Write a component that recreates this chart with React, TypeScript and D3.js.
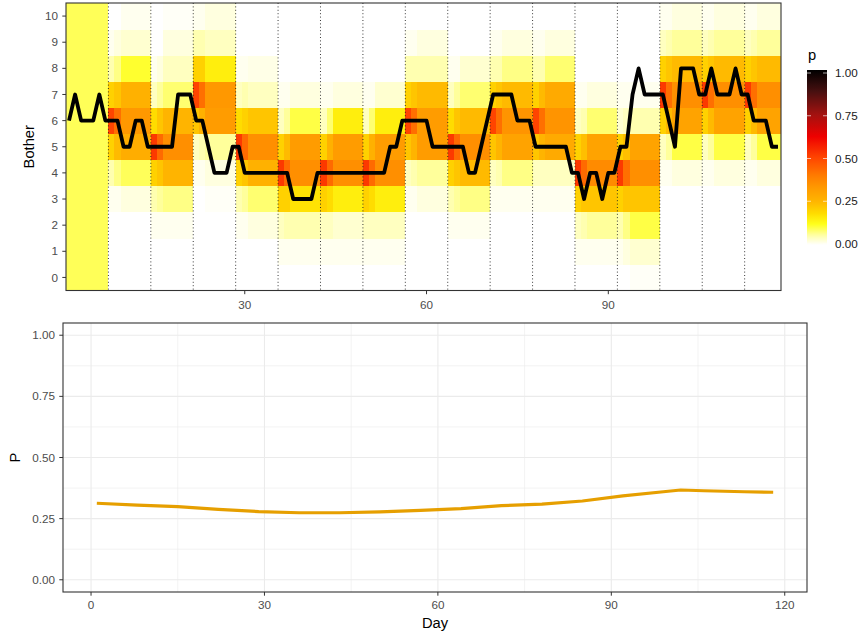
import React from 'react';
import * as d3 from 'd3';

// Observed bother per day (days 1..118)
const observed = [
  6, 7, 6, 6, 6, 7, 6,
  6, 6, 5, 5, 6, 6, 5,
  5, 5, 5, 5, 7, 7, 7,
  6, 6, 5, 4, 4, 4, 5,
  5, 4, 4, 4, 4, 4, 4,
  4, 4, 3, 3, 3, 3, 4,
  4, 4, 4, 4, 4, 4, 4,
  4, 4, 4, 4, 5, 5, 6,
  6, 6, 6, 6, 5, 5, 5,
  5, 5, 5, 4, 4, 5, 6,
  7, 7, 7, 7, 6, 6, 6,
  5, 5, 5, 5, 5, 5, 4,
  4, 3, 4, 4, 3, 4, 4,
  5, 5, 7, 8, 7, 7, 7,
  7, 6, 5, 8, 8, 8, 7,
  7, 8, 7, 7, 7, 8, 7,
  7, 6, 6, 6, 5, 5,
];

const levels = [0, 1, 2, 3, 4, 5, 6, 7, 8, 9, 10];

// Week 1 (days 1-7): uniform prior over the 11 levels
const week1Dist = [0.091, 0.091, 0.091, 0.091, 0.091, 0.091, 0.091, 0.091, 0.091, 0.091, 0.091];

// First forecast day of weeks 2..17 (levels 0..10)
const weekStart = [
  [0, 0, 0, 0.01, 0.05, 0.2, 0.5, 0.2, 0.05, 0.01, 0],
  [0, 0, 0.01, 0.05, 0.2, 0.52, 0.18, 0.04, 0.01, 0, 0],
  [0, 0, 0, 0, 0.01, 0.04, 0.22, 0.5, 0.2, 0.05, 0.01],
  [0, 0, 0.01, 0.05, 0.2, 0.52, 0.18, 0.04, 0.01, 0, 0],
  [0, 0.01, 0.04, 0.2, 0.52, 0.2, 0.04, 0.01, 0, 0, 0],
  [0, 0.01, 0.04, 0.2, 0.52, 0.2, 0.04, 0.01, 0, 0, 0],
  [0, 0.01, 0.04, 0.2, 0.52, 0.2, 0.04, 0.01, 0, 0, 0],
  [0, 0, 0, 0.01, 0.04, 0.22, 0.5, 0.2, 0.05, 0.01, 0],
  [0, 0, 0.01, 0.05, 0.2, 0.52, 0.18, 0.04, 0.01, 0, 0],
  [0, 0, 0, 0.01, 0.04, 0.22, 0.5, 0.2, 0.05, 0.01, 0],
  [0, 0, 0, 0.01, 0.04, 0.22, 0.5, 0.2, 0.05, 0.01, 0],
  [0, 0.01, 0.04, 0.2, 0.52, 0.2, 0.04, 0.01, 0, 0, 0],
  [0, 0.01, 0.05, 0.2, 0.52, 0.2, 0.03, 0.01, 0, 0, 0],
  [0, 0, 0, 0, 0.01, 0.04, 0.2, 0.52, 0.2, 0.04, 0.01],
  [0, 0, 0, 0, 0.01, 0.04, 0.2, 0.52, 0.2, 0.04, 0.01],
  [0, 0, 0, 0, 0.01, 0.04, 0.2, 0.52, 0.2, 0.04, 0.01],
];

// Second forecast day of weeks 2..17
const weekSecond = [
  [0, 0, 0, 0.01, 0.07, 0.24, 0.42, 0.22, 0.07, 0.02, 0],
  [0, 0, 0.01, 0.06, 0.22, 0.43, 0.22, 0.06, 0.02, 0, 0],
  [0, 0, 0, 0, 0.01, 0.05, 0.26, 0.42, 0.2, 0.05, 0.01],
  [0, 0, 0.01, 0.06, 0.22, 0.43, 0.2, 0.05, 0.01, 0, 0],
  [0, 0.01, 0.05, 0.2, 0.43, 0.24, 0.06, 0.01, 0, 0, 0],
  [0, 0.01, 0.04, 0.18, 0.43, 0.26, 0.08, 0.01, 0, 0, 0],
  [0, 0.01, 0.04, 0.18, 0.43, 0.26, 0.08, 0.01, 0, 0, 0],
  [0, 0, 0, 0.01, 0.05, 0.25, 0.42, 0.22, 0.05, 0.01, 0],
  [0, 0, 0.01, 0.06, 0.22, 0.43, 0.22, 0.06, 0.01, 0, 0],
  [0, 0, 0, 0.01, 0.05, 0.25, 0.42, 0.22, 0.05, 0.01, 0],
  [0, 0, 0, 0.01, 0.04, 0.25, 0.42, 0.24, 0.05, 0.01, 0],
  [0, 0.01, 0.05, 0.22, 0.43, 0.23, 0.05, 0.01, 0, 0, 0],
  [0, 0.02, 0.07, 0.22, 0.42, 0.23, 0.04, 0.01, 0, 0, 0],
  [0, 0, 0, 0, 0.01, 0.06, 0.24, 0.42, 0.22, 0.05, 0.01],
  [0, 0, 0, 0, 0.01, 0.06, 0.24, 0.42, 0.22, 0.05, 0.01],
  [0, 0, 0, 0, 0.01, 0.06, 0.24, 0.42, 0.22, 0.05, 0.01],
];

// Remaining days of weeks 2..17 (levels 0..10)
const weekRest = [
  [0, 0, 0, 0.02, 0.09, 0.27, 0.33, 0.26, 0.11, 0.03, 0.01],
  [0, 0, 0.01, 0.07, 0.25, 0.35, 0.25, 0.08, 0.04, 0.02, 0.005],
  [0, 0, 0, 0.005, 0.02, 0.06, 0.32, 0.33, 0.15, 0.04, 0.02],
  [0, 0, 0.02, 0.08, 0.26, 0.35, 0.22, 0.04, 0.015, 0, 0],
  [0, 0.01, 0.05, 0.17, 0.35, 0.32, 0.1, 0.02, 0, 0, 0],
  [0, 0.01, 0.03, 0.15, 0.35, 0.32, 0.15, 0.02, 0, 0, 0],
  [0, 0.01, 0.04, 0.15, 0.35, 0.32, 0.15, 0.03, 0, 0, 0],
  [0, 0, 0, 0.02, 0.06, 0.32, 0.32, 0.24, 0.05, 0.02, 0],
  [0, 0, 0.01, 0.07, 0.24, 0.35, 0.24, 0.08, 0.03, 0, 0],
  [0, 0, 0, 0.01, 0.07, 0.3, 0.34, 0.24, 0.07, 0.02, 0],
  [0, 0, 0, 0.01, 0.04, 0.28, 0.34, 0.28, 0.08, 0.02, 0],
  [0, 0.01, 0.06, 0.22, 0.36, 0.3, 0.08, 0.02, 0, 0, 0],
  [0.005, 0.03, 0.1, 0.22, 0.35, 0.3, 0.05, 0.01, 0, 0, 0],
  [0, 0, 0, 0, 0.02, 0.1, 0.3, 0.35, 0.24, 0.06, 0.02],
  [0, 0, 0, 0, 0.02, 0.1, 0.3, 0.35, 0.24, 0.06, 0.02],
  [0, 0, 0, 0, 0.02, 0.1, 0.3, 0.35, 0.24, 0.06, 0.02],
];

// Week boundaries (dotted lines)
const weekLines = [7.5, 14.5, 21.5, 28.5, 35.5, 42.5, 49.5, 56.5, 63.5, 70.5, 77.5, 84.5, 91.5, 98.5, 105.5, 112.5];

// Bottom panel: P over days
const pDays = [1, 8, 15, 22, 29, 36, 43, 50, 57, 64, 71, 78, 85, 92, 99, 102, 106, 113, 118];
const pValues = [0.313, 0.305, 0.299, 0.288, 0.279, 0.274, 0.274, 0.278, 0.284, 0.291, 0.303, 0.309, 0.322, 0.343, 0.36, 0.367, 0.364, 0.36, 0.358];

// Colour scale for p
const colorStops = [0, 0.05, 0.12, 0.18, 0.25, 0.33, 0.4, 0.5, 0.62, 0.75, 0.88, 1];
const colorValues = ['#ffffff', '#ffffb0', '#ffff1a', '#ffdc00', '#ffb400', '#ff9800', '#ff7a00', '#ff4400', '#ee0000', '#a01210', '#461010', '#000000'];

const topXTicks = [30, 60, 90];
const topYTicks = [0, 1, 2, 3, 4, 5, 6, 7, 8, 9, 10];
const botXTicks = [0, 30, 60, 90, 120];
const botXMinor = [15, 45, 75, 105];
const botYTicks = [0, 0.25, 0.5, 0.75, 1];
const botYMinor = [0.125, 0.375, 0.625, 0.875];
const legendTicks = [0, 0.25, 0.5, 0.75, 1];

const FONT = 'Liberation Sans, Arial, Helvetica, sans-serif';

export default function App() {
  const W = 867, H = 636;
  const xTop = d3.scaleLinear().domain([0.5, 118.5]).range([66, 781]);
  const yTop = d3.scaleLinear().domain([-0.5, 10.5]).range([290.5, 3]);
  const xBot = d3.scaleLinear().domain([-4.85, 123.85]).range([63, 807]);
  const yBot = d3.scaleLinear().domain([-0.05, 1.05]).range([592, 323]);
  const color = d3.scaleLinear<string>().domain(colorStops).range(colorValues).interpolate(d3.interpolateRgb).clamp(true);
  const yLeg = d3.scaleLinear().domain([0, 1]).range([244, 73]);

  const distFor = (day: number) => {
    const w = Math.floor((day - 1) / 7);
    if (w === 0) return week1Dist;
    const k = (day - 1) % 7;
    if (k === 0) return weekStart[w - 1];
    if (k === 1) return weekSecond[w - 1];
    return weekRest[w - 1];
  };

  const tiles: React.ReactElement[] = [];
  observed.forEach((_, i) => {
    const day = i + 1;
    const dist = distFor(day);
    const x0 = xTop(day - 0.5);
    const x1 = xTop(day + 0.5);
    levels.forEach((lv) => {
      const y0 = yTop(lv + 0.5);
      const y1 = yTop(lv - 0.5);
      tiles.push(
        <rect key={`t${day}-${lv}`} x={x0} y={y0} width={x1 - x0 + 0.4} height={y1 - y0 + 0.4} fill={color(dist[lv])} />
      );
    });
  });

  const obsLine = d3.line<number>().x((_, i) => xTop(i + 1)).y((v) => yTop(v))(observed) || '';
  const pLine = d3.line<number>().x((_, i) => xBot(pDays[i])).y((v) => yBot(v))(pValues) || '';

  const tickCol = '#4d4d4d';
  const gradStops = d3.range(0, 1.0001, 0.02);

  return (
    <svg width={W} height={H} style={{ position: 'absolute', left: 0, top: 0, background: '#fff' }} fontFamily={FONT}>
      <defs>
        <linearGradient id="pgrad" x1="0" y1="1" x2="0" y2="0">
          {gradStops.map((s) => (
            <stop key={s} offset={s} stopColor={color(s)} />
          ))}
        </linearGradient>
        <clipPath id="topclip">
          <rect x={66} y={3} width={715} height={287.5} />
        </clipPath>
      </defs>
      <rect x={0} y={0} width={W} height={H} fill="#fff" />

      {/* Top panel */}
      <g clipPath="url(#topclip)" shapeRendering="crispEdges">{tiles}</g>
      <g>
        {weekLines.map((v) => (
          <line key={v} x1={xTop(v)} x2={xTop(v)} y1={3} y2={290.5} stroke="#222" strokeWidth={0.9} strokeDasharray="1 2.4" />
        ))}
      </g>
      <path d={obsLine} fill="none" stroke="#000" strokeWidth={3.8} strokeLinejoin="round" />
      <rect x={66} y={3} width={715} height={287.5} fill="none" stroke="#333" strokeWidth={1.1} />
      {topYTicks.map((t) => (
        <g key={`ty${t}`}>
          <line x1={62.3} x2={66} y1={yTop(t)} y2={yTop(t)} stroke="#333" strokeWidth={1} />
          <text x={58} y={yTop(t)} dy="0.35em" textAnchor="end" fontSize={11.7} fill={tickCol}>{t}</text>
        </g>
      ))}
      {topXTicks.map((t) => (
        <g key={`tx${t}`}>
          <line x1={xTop(t)} x2={xTop(t)} y1={290.5} y2={294.2} stroke="#333" strokeWidth={1} />
          <text x={xTop(t)} y={309} textAnchor="middle" fontSize={11.7} fill={tickCol}>{t}</text>
        </g>
      ))}
      <text transform={`translate(34,${(3 + 290.5) / 2}) rotate(-90)`} textAnchor="middle" fontSize={14.7} fill="#000">Bother</text>

      {/* Legend */}
      <text x={808} y={60} fontSize={14.7} fill="#000">p</text>
      <rect x={807} y={70} width={20} height={175} fill="url(#pgrad)" />
      {legendTicks.map((t) => (
        <g key={`lg${t}`}>
          <line x1={807} x2={811} y1={yLeg(t)} y2={yLeg(t)} stroke="#fff" strokeWidth={0.8} opacity={0.8} />
          <line x1={823} x2={827} y1={yLeg(t)} y2={yLeg(t)} stroke="#fff" strokeWidth={0.8} opacity={0.8} />
          <text x={835} y={yLeg(t)} dy="0.35em" fontSize={11.7} fill="#1a1a1a">{t.toFixed(2)}</text>
        </g>
      ))}

      {/* Bottom panel */}
      <rect x={63} y={323} width={744} height={269} fill="#fff" />
      {botXMinor.map((t) => (
        <line key={`bxm${t}`} x1={xBot(t)} x2={xBot(t)} y1={323} y2={592} stroke="#ebebeb" strokeWidth={0.6} />
      ))}
      {botYMinor.map((t) => (
        <line key={`bym${t}`} x1={63} x2={807} y1={yBot(t)} y2={yBot(t)} stroke="#ebebeb" strokeWidth={0.6} />
      ))}
      {botXTicks.map((t) => (
        <line key={`bx${t}`} x1={xBot(t)} x2={xBot(t)} y1={323} y2={592} stroke="#ebebeb" strokeWidth={1.1} />
      ))}
      {botYTicks.map((t) => (
        <line key={`by${t}`} x1={63} x2={807} y1={yBot(t)} y2={yBot(t)} stroke="#ebebeb" strokeWidth={1.1} />
      ))}
      <path d={pLine} fill="none" stroke="#E69F00" strokeWidth={3.2} strokeLinejoin="round" />
      <rect x={63} y={323} width={744} height={269} fill="none" stroke="#333" strokeWidth={1.1} />
      {botYTicks.map((t) => (
        <g key={`byt${t}`}>
          <line x1={59.3} x2={63} y1={yBot(t)} y2={yBot(t)} stroke="#333" strokeWidth={1} />
          <text x={55} y={yBot(t)} dy="0.35em" textAnchor="end" fontSize={11.7} fill={tickCol}>{t.toFixed(2)}</text>
        </g>
      ))}
      {botXTicks.map((t) => (
        <g key={`bxt${t}`}>
          <line x1={xBot(t)} x2={xBot(t)} y1={592} y2={595.7} stroke="#333" strokeWidth={1} />
          <text x={xBot(t)} y={609} textAnchor="middle" fontSize={11.7} fill={tickCol}>{t}</text>
        </g>
      ))}
      <text x={435} y={628} textAnchor="middle" fontSize={14.7} fill="#000">Day</text>
      <text transform={`translate(20,457.5) rotate(-90)`} textAnchor="middle" fontSize={14.7} fill="#000">P</text>
    </svg>
  );
}
